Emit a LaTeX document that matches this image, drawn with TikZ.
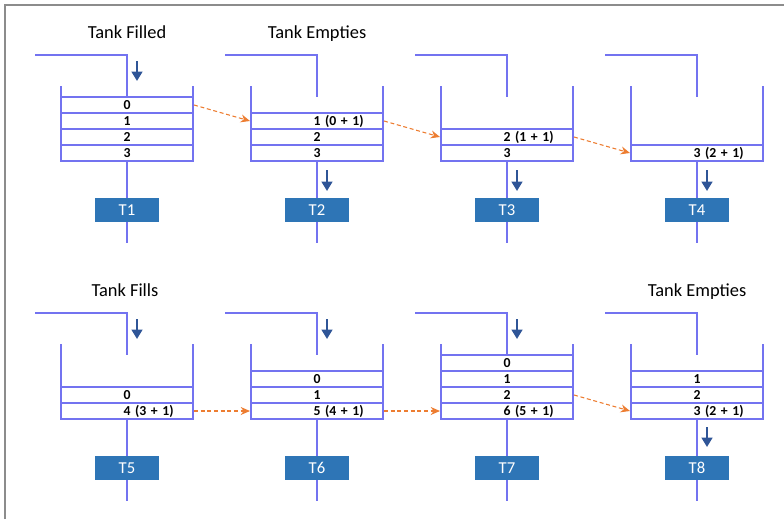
\documentclass[tikz,border=0pt]{standalone}
\usepackage{fontspec}
\setmainfont{Carlito}
\usetikzlibrary{arrows.meta}
\definecolor{tankline}{RGB}{115,115,240}
\definecolor{flowblue}{RGB}{47,85,151}
\definecolor{boxblue}{RGB}{46,117,182}
\definecolor{moveorange}{RGB}{237,125,49}
\definecolor{framegray}{RGB}{140,140,140}

\begin{document}
\begin{tikzpicture}[x=0.75pt,y=-0.75pt,
    wall/.style={draw=tankline,line width=1.5pt},
    cell/.style={draw=tankline,line width=1.5pt,minimum width=99pt,minimum height=12pt,
      inner sep=0pt,text width=99pt,align=left,font=\bfseries\fontsize{10.3}{11}\selectfont,
      execute at begin node=\hspace*{46.9pt}},
    tbox/.style={fill=boxblue,text=white,minimum width=48pt,minimum height=18pt,
      inner sep=0pt,font=\fontsize{12.5}{13}\selectfont},
    flow/.style={draw=flowblue,line width=1.6pt,-{Triangle[width=8pt,length=7pt]}},
    move/.style={draw=moveorange,dash pattern=on 3pt off 2pt,line width=0.8pt,
      -{Stealth[length=7pt,width=6pt]}},
    title/.style={anchor=base,font=\fontsize{13.8}{15}\selectfont}]
  \useasboundingbox (0,0) rectangle (784,519);
  \draw[framegray,line width=1.5pt] (5,519) -- (5,5) -- (784,5);

  % pipes, walls and labels of the eight tanks
  \foreach \cx/\yy/\nm in {127/55/T1,317/55/T2,507/55/T3,697/55/T4,
                           127/313/T5,317/313/T6,507/313/T7,697/313/T8}{
    \draw[wall] (\cx-92,\yy) -- (\cx,\yy) -- (\cx,\yy+42);
    \draw[wall] (\cx-66,\yy+31) -- (\cx-66,\yy+106) -- (\cx+66,\yy+106) -- (\cx+66,\yy+31);
    \draw[wall] (\cx,\yy+106) -- (\cx,\yy+188);
    \node[tbox] (\nm) at (\cx,\yy+155) {\nm};
  }

  \node[title] (fill1) at (127,38.5) {Tank Filled};
  \node[title] (empty1) at (317,38.5) {Tank Empties};
  \node[title] (fill2) at (125,296.5) {Tank Fills};
  \node[title] (empty2) at (697,296.5) {Tank Empties};

  % contents
  \node[cell] (a0) at (127,105) {0};
  \node[cell] (a1) at (127,121) {1};
  \node[cell] (a2) at (127,137) {2};
  \node[cell] (a3) at (127,153) {3};
  \node[cell] (b1) at (317,121) {1 (0 + 1)};
  \node[cell] (b2) at (317,137) {2};
  \node[cell] (b3) at (317,153) {3};
  \node[cell] (c2) at (507,137) {2 (1 + 1)};
  \node[cell] (c3) at (507,153) {3};
  \node[cell] (d3) at (697,153) {3 (2 + 1)};

  \node[cell] (e2) at (127,395) {0};
  \node[cell] (e3) at (127,411) {4 (3 + 1)};
  \node[cell] (f1) at (317,379) {0};
  \node[cell] (f2) at (317,395) {1};
  \node[cell] (f3) at (317,411) {5 (4 + 1)};
  \node[cell] (g0) at (507,363) {0};
  \node[cell] (g1) at (507,379) {1};
  \node[cell] (g2) at (507,395) {2};
  \node[cell] (g3) at (507,411) {6 (5 + 1)};
  \node[cell] (h1) at (697,379) {1};
  \node[cell] (h2) at (697,395) {2};
  \node[cell] (h3) at (697,411) {3 (2 + 1)};

  % moves between tanks
  \draw[move] (a0.east) -- (b1.west);
  \draw[move] (b1.east) -- (c2.west);
  \draw[move] (c2.east) -- (d3.west);
  \draw[move] (e3.east) -- (f3.west);
  \draw[move] (f3.east) -- (g3.west);
  \draw[move] (g2.east) -- (h3.west);

  % flow arrows
  \draw[flow] (137,61) -- (137,81);
  \draw[flow] (327,170) -- (327,191);
  \draw[flow] (517,170) -- (517,191);
  \draw[flow] (707,170) -- (707,191);
  \draw[flow] (137,319) -- (137,339);
  \draw[flow] (327,319) -- (327,339);
  \draw[flow] (517,319) -- (517,339);
  \draw[flow] (707,427) -- (707,447);
\end{tikzpicture}
\end{document}
